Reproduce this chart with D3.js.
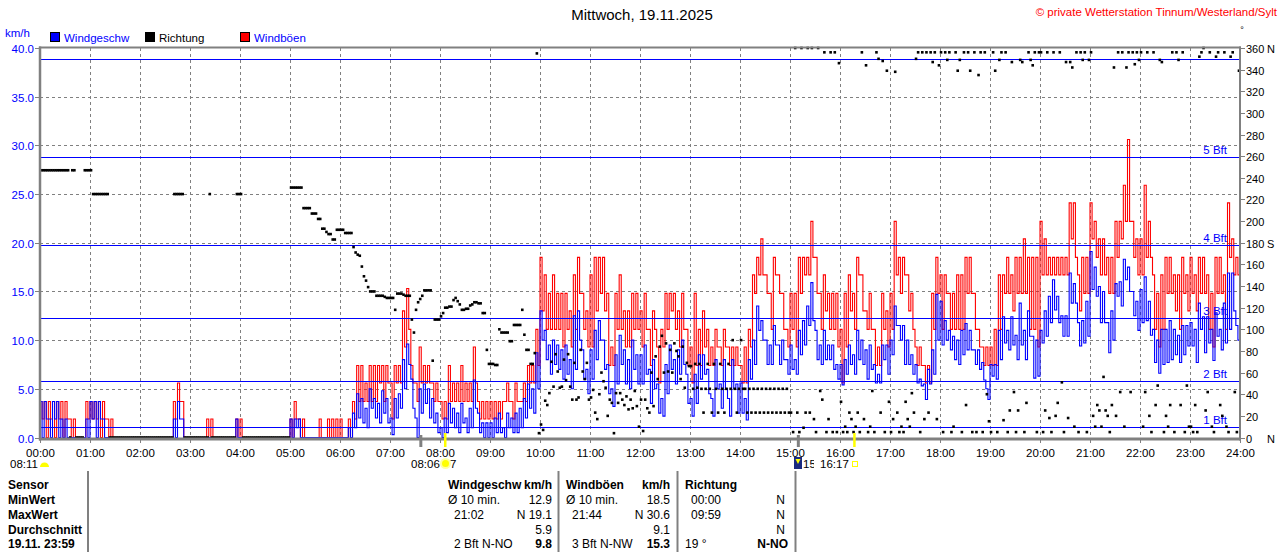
<!DOCTYPE html>
<html><head><meta charset="utf-8">
<script src="https://cdn.jsdelivr.net/npm/d3@7"></script>
<style>
body{margin:0;background:#fff;}
svg{display:block;font-family:"Liberation Sans",Arial,sans-serif;}
</style>
</head><body>
<svg id="c" width="1280" height="552"></svg>
<script>
// ---------------- DATA ----------------
const titel = "Mittwoch, 19.11.2025";
const copyright = "\u00A9 private Wetterstation Tinnum/Westerland/Sylt";
const stundenLabels = ["00:00","01:00","02:00","03:00","04:00","05:00","06:00","07:00","08:00","09:00","10:00","11:00","12:00","13:00","14:00","15:00","16:00","17:00","18:00","19:00","20:00","21:00","22:00","23:00","24:00"];
const kmhTicks = [0,5,10,15,20,25,30,35,40];
const richtungTicks = [0,20,40,60,80,100,120,140,160,180,200,220,240,260,280,300,320,340,360];
const richtungSuffix = {0:"N",180:"S",360:"N"};
const bftGrenzen = [1.08,5.76,12.24,19.8,28.8,38.88];
const bftLabels = ["1 Bft","2 Bft","3 Bft","4 Bft","5 Bft",""];
const legende = [["Windgeschw","#0000ff","#0000ff"],["Richtung","#000000","#000000"],["Windb\u00F6en","#ff0000","#0000ff"]];

// wind speed km/h: highest and lowest reading in each 5-minute slot (rows = hours)
const geschwHoch = [
 3.7,3.7,1.9,3.7,3.7,1.9,1.9,0,0,0,0,1.9,
 3.7,3.7,3.7,1.9,0,0,0,0,0,0,0,0,
 0,0,0,0,0,0,0,0,1.9,3.7,1.9,0,
 0,0,0,0,0,0,0,0,0,0,0,1.9,
 0,0,0,0,0,0,0,0,0,0,0,0,
 1.9,1.9,1.9,0,0,0,0,0,0,0,0,0,
 0,0,1.0,2.5,4.5,4.0,3.0,5.0,4.0,3.5,4.8,4.0,
 2.0,4.0,4.5,8.0,9.6,6.0,2.0,5.0,5.5,5.0,4.0,2.5,
 1.0,2.0,3.5,3.0,2.5,3.5,2.0,3.0,5.9,2.5,1.5,1.5,
 1.5,2.0,2.5,1.0,2.5,2.0,2.5,3.0,4.0,5.5,5.0,8.7,
 13.0,11.0,9.5,10.0,9.5,9.0,9.5,8.0,12.5,13.0,9.0,7.0,
 9.0,11.0,12.0,10.0,7.5,5.0,8.5,10.5,9.0,8.0,10.0,8.5,
 8.5,9.5,7.0,8.0,5.5,4.0,7.5,9.5,8.0,9.0,10.0,6.5,
 4.0,6.5,8.5,8.5,7.0,4.0,8.0,5.5,8.0,4.0,8.0,5.5,
 5.6,4.0,8.0,10.0,13.5,12.0,10.0,9.5,11.5,9.5,10.0,8.0,
 9.5,8.0,11.0,12.0,13.5,15.9,11.0,9.5,11.0,9.5,9.5,7.5,
 7.5,8.0,9.5,8.5,11.0,10.0,9.0,9.5,7.5,6.5,9.5,9.5,
 10.0,13.5,11.5,11.5,10.0,8.5,7.5,6.0,5.5,7.0,9.0,14.7,
 14.0,12.0,11.0,10.4,10.0,11.0,11.7,11.0,9.0,9.0,7.7,5.0,
 7.5,7.5,11.0,12.4,11.0,12.4,10.5,13.8,11.0,13.0,10.4,10.0,
 11.0,13.0,14.5,16.2,14.5,12.5,12.5,16.9,15.8,11.8,12.0,14.0,
 19.1,17.5,15.5,15.0,11.8,13.0,15.8,16.0,18.3,17.5,15.0,14.0,
 15.2,16.5,14.0,11.1,10.0,11.1,11.1,12.0,11.1,10.5,11.5,11.5,
 11.8,11.1,13.8,12.4,12.4,11.1,12.8,11.1,13.8,16.9,16.9,11.5
];
const geschwTief = [
 0,1.9,0,1.9,0,0,0,0,0,0,0,0,
 1.9,0,1.9,0,0,0,0,0,0,0,0,0,
 0,0,0,0,0,0,0,0,0,1.9,0,0,
 0,0,0,0,0,0,0,0,0,0,0,0,
 0,0,0,0,0,0,0,0,0,0,0,0,
 0,1.0,0,0,0,0,0,0,0,0,0,0,
 0,0,0,1.0,2.0,1.5,1.0,3.0,2.0,1.5,2.5,1.5,
 0.3,2.0,3.0,5.0,7.5,3.0,0,2.5,3.5,2.0,1.5,0.5,
 0,0.5,1.5,1.0,0.5,1.5,0.5,1.0,3.0,0.5,0,0,
 0,0.5,0.5,0,1.0,0.5,0.5,1.0,2.0,3.0,2.5,5.0,
 10.0,8.0,6.5,7.5,7.0,6.0,6.5,5.0,7.0,10.0,6.0,4.5,
 6.0,8.0,10.0,7.0,4.5,3.2,5.5,7.5,5.5,5.0,7.0,5.5,
 5.5,6.5,3.5,5.0,2.5,2.2,4.5,7.0,5.5,6.5,7.5,3.5,
 2.2,3.5,6.0,6.5,4.5,2.2,5.0,3.0,5.0,2.2,5.0,2.5,
 2.5,1.8,6.0,7.5,11.0,10.0,7.5,7.5,9.5,7.5,8.0,6.5,
 7.0,6.5,8.5,9.5,11.5,12.0,8.0,7.5,8.0,8.0,7.0,6.0,
 5.4,6.5,7.5,6.5,8.0,7.5,6.0,7.0,5.6,5.6,8.0,6.5,
 8.5,11.5,10.0,7.5,7.5,6.5,5.6,5.3,3.9,5.5,6.5,10.0,
 9.5,10.0,9.0,8.0,7.5,8.5,9.0,9.0,7.5,7.0,5.9,3.9,
 6.3,6.0,8.0,9.7,9.0,9.5,8.0,9.5,8.0,10.4,6.1,6.3,
 9.7,10.4,11.8,13.1,11.8,10.4,10.4,13.8,13.8,9.4,9.7,10.4,
 15.2,14.5,11.8,11.8,8.7,10.0,14.5,13.5,16.2,15.0,12.5,11.0,
 11.8,12.0,10.5,7.7,6.6,7.5,7.7,8.0,8.5,7.7,8.5,9.4,
 9.4,7.7,11.1,8.7,9.7,7.9,10.4,9.0,9.7,11.1,13.0,10.0
];
// gusts km/h: highest and lowest reading in each 5-minute slot
const boeenHoch = [
 3.7,3.7,3.7,3.7,3.7,3.7,3.7,1.9,1.9,0,0,3.7,
 3.7,3.7,3.7,3.7,1.9,1.9,0,0,0,0,0,0,
 0,0,0,0,0,0,0,0,3.7,5.6,3.7,0,
 0,0,0,0,1.9,1.9,0,0,0,0,0,1.9,
 1.9,0,0,0,0,0,0,0,0,0,0,0,
 1.9,3.7,1.9,1.9,0,0,0,1.9,0,1.9,1.9,1.9,
 1.9,0,1.9,3.7,7.4,7.4,5.6,7.4,7.4,7.4,7.4,7.4,
 5.6,7.4,7.4,13.0,15.3,7.4,5.6,9.3,7.4,7.4,5.6,5.6,
 3.7,3.7,7.4,5.6,5.6,7.4,5.6,5.6,9.3,3.7,3.7,3.7,
 3.7,3.7,3.7,3.7,5.6,3.7,5.6,3.7,5.6,7.4,7.4,11.1,
 18.5,16.7,14.8,16.7,14.8,14.8,14.8,13.0,16.7,18.5,14.8,13.0,
 16.7,18.5,18.5,18.5,14.8,9.3,14.8,16.7,13.0,13.0,14.8,14.8,
 13.0,14.8,11.1,13.0,9.3,11.1,14.8,14.8,14.8,13.0,14.8,11.1,
 9.3,14.8,11.1,13.0,11.1,9.3,11.1,9.3,11.1,9.3,9.3,9.3,
 7.4,9.3,11.1,16.7,18.5,20.4,16.7,14.8,18.5,16.7,14.8,11.1,
 14.8,14.8,18.5,18.5,18.5,22.2,18.5,14.8,16.7,14.8,14.8,14.8,
 11.1,14.8,16.7,14.8,18.5,16.7,13.0,14.8,11.1,9.3,14.8,13.0,
 14.8,22.2,18.5,18.5,16.7,14.8,9.3,9.3,7.4,7.4,14.8,18.5,
 16.7,16.7,14.8,14.8,16.7,16.7,18.5,18.5,14.8,11.1,9.3,9.3,
 9.3,11.1,16.7,16.7,18.5,16.7,18.5,18.5,20.4,18.5,18.5,18.5,
 22.2,20.4,18.5,18.5,18.5,18.5,18.5,24.1,24.1,16.7,18.5,18.5,
 24.1,22.2,20.4,20.4,18.5,18.5,22.2,22.2,25.9,30.6,22.2,20.4,
 20.4,25.9,22.2,16.7,14.8,16.7,18.5,18.5,16.7,16.7,18.5,16.7,
 18.5,16.7,18.5,18.5,16.7,14.8,18.5,18.5,16.7,24.1,20.4,18.5
];
const boeenTief = [
 1.9,0,1.9,0,1.9,0,1.9,0,0,0,0,1.9,
 1.9,1.9,0,1.9,0,0,0,0,0,0,0,0,
 0,0,0,0,0,0,0,0,1.9,3.7,0,0,
 0,0,0,0,0,0,0,0,0,0,0,0,
 0,0,0,0,0,0,0,0,0,0,0,0,
 0,1.9,0,0,0,0,0,0,0,0,0,0,
 0,0,0,1.9,3.7,3.7,3.7,3.7,3.7,5.6,3.7,5.6,
 1.9,5.6,5.6,9.3,11.1,5.6,3.7,5.6,5.6,5.6,3.7,3.7,
 1.9,1.9,3.7,3.7,3.7,3.7,3.7,3.7,5.6,1.9,1.9,1.9,
 1.9,1.9,1.9,3.7,3.7,1.9,3.7,3.7,3.7,5.6,5.6,7.4,
 13.0,11.1,11.1,11.1,11.1,9.3,11.1,9.3,11.1,14.8,11.1,9.3,
 9.3,13.0,14.8,13.0,7.4,7.4,11.1,11.1,9.3,9.3,11.1,11.1,
 9.3,11.1,7.4,11.1,5.6,9.3,11.1,13.0,11.1,9.3,11.1,7.4,
 5.6,7.4,7.4,9.3,7.4,7.4,9.3,7.4,9.3,7.4,7.4,7.4,
 5.6,5.6,9.3,14.8,16.7,16.7,14.8,11.1,16.7,14.8,11.1,9.3,
 11.1,9.3,14.8,16.7,16.7,18.5,14.8,11.1,13.0,11.1,11.1,9.3,
 5.6,9.3,13.0,11.1,16.7,13.0,11.1,11.1,7.4,7.4,11.1,9.3,
 11.1,16.7,14.8,16.7,13.0,11.1,7.4,7.4,5.6,5.6,11.1,14.8,
 11.1,14.8,11.1,11.1,11.1,11.1,14.8,14.8,11.1,9.3,7.4,7.4,
 7.4,7.4,11.1,14.8,14.8,13.0,14.8,14.8,14.8,11.1,11.1,9.3,
 16.7,16.7,16.7,16.7,16.7,16.7,16.7,20.4,18.5,13.0,14.8,14.8,
 20.4,18.5,16.7,16.7,14.8,14.8,18.5,20.4,22.2,22.2,18.5,16.7,
 16.7,18.5,18.5,11.1,9.3,11.1,14.8,14.8,13.0,11.1,14.8,13.0,
 14.8,13.0,14.8,14.8,11.1,9.3,14.8,14.8,11.1,18.5,16.7,16.7
];
// direction degrees, one value per 2.5 minutes (rows = hours)
const richtung = [
 247,247,247,247,247,247,247,247,247,247,247,247,247,247,0,247,247,0,0,0,0,247,247,247,
 247,225,225,225,225,225,225,225,225,0,0,0,0,0,0,0,0,0,0,0,0,0,0,0,
 0,0,0,0,0,0,0,0,0,0,0,0,0,0,0,0,225,225,225,225,225,0,0,0,
 0,0,0,0,0,0,0,0,0,225,0,0,0,0,0,0,0,0,0,0,0,0,225,225,
 225,0,0,0,0,0,0,0,0,0,0,0,0,0,0,0,0,0,0,0,0,0,0,0,
 231,231,231,231,231,231,212,212,212,212,207,207,207,202,202,193,193,190,188,188,183,183,192,192,
 192,192,189,189,189,189,176,171,169,168,158,149,145,139,135,135,135,131,131,131,131,130,129,129,
 129,129,118,133,133,133,132,131,131,131,109,97,118,125,128,131,136,136,136,136,71,109,109,109,
 112,115,120,120,121,121,127,129,126,123,118,118,119,119,122,123,125,125,124,124,115,115,81,68,
 68,68,67,67,100,97,97,97,97,89,89,104,104,104,104,118,95,81,81,68,68,78,355,4,
 12,7,34,30,41,70,47,77,61,46,47,72,53,77,47,35,69,35,37,81,61,54,69,35,
 37,44,23,17,40,60,52,46,20,35,32,4,41,32,41,35,30,38,26,35,27,43,29,10,
 35,6,35,27,23,60,29,75,54,84,94,60,87,61,81,60,87,80,75,54,84,46,69,66,
 66,45,68,46,68,45,23,45,68,45,23,68,45,23,68,45,23,45,68,45,90,45,23,45,
 90,45,45,23,45,23,45,23,45,23,45,23,45,23,45,23,45,23,45,23,45,23,45,23,
 23,5,360,23,5,360,9,23,360,23,360,17,5,360,43,35,356,5,17,356,5,356,5,346,
 33,5,10,5,23,17,5,10,23,5,356,17,344,5,10,43,5,356,350,23,348,5,339,33,
 5,17,338,23,5,10,5,33,17,10,41,23,350,356,5,356,17,356,23,356,347,356,17,344,
 356,5,356,349,356,5,10,356,339,349,5,356,30,356,339,5,356,5,335,356,5,356,40,15,
 5,356,339,5,349,356,16,356,5,25,347,42,5,25,349,347,5,32,356,349,344,356,5,356,
 356,5,25,356,18,5,356,20,32,356,51,5,347,18,347,342,10,356,5,356,349,356,5,349,
 356,20,10,30,25,10,56,25,20,5,30,342,20,356,42,356,10,342,356,42,356,345,356,349,
 356,10,42,356,20,5,356,30,48,349,347,5,20,10,30,356,5,356,349,30,356,5,48,10,
 10,5,30,5,352,356,360,25,42,356,10,5,352,356,30,20,356,10,5,352,356,42,5,339
];
// sun / moon events (minutes of day)
const sonnenMarker = [486, 977];   // 08:06 sunrise, 16:17 sunset
const mondMarker = [457, 910];
// statistics table
const tabZeilen = ["Sensor","MinWert","MaxWert","Durchschnitt","19.11. 23:59"];
const tabGeschw = [["Windgeschw","km/h"],["\u00D8 10 min.","12.9"],["21:02","N 19.1"],["","5.9"],["2 Bft N-NO","9.8"]];
const tabBoeen = [["Windb\u00F6en","km/h"],["\u00D8 10 min.","18.5"],["21:44","N 30.6"],["","9.1"],["3 Bft N-NW","15.3"]];
const tabRichtung = [["Richtung",""],["00:00","N"],["09:59","N"],["","N"],["19 \u00B0","N-NO"]];

// ---------------- DRAW ----------------
const svg = d3.select("#c");
const X0 = 40, X1 = 1240, Y0 = 437.5, Y1 = 48;
const x = d3.scaleLinear().domain([0,1440]).range([X0,X1]);
const y = d3.scaleLinear().domain([0,40]).range([Y0,Y1]);
const yd = d3.scaleLinear().domain([0,360]).range([Y0,Y1]);
const GRAY = "#808080";

svg.append("rect").attr("width",1280).attr("height",552).attr("fill","#fff");

svg.append("text").attr("x",642).attr("y",20).attr("text-anchor","middle")
  .attr("font-size",15).attr("fill","#000").text(titel);
svg.append("text").attr("x",1277).attr("y",16).attr("text-anchor","end")
  .attr("font-size",11.5).attr("fill","#ff0000").text(copyright);
svg.append("text").attr("x",1242).attr("y",33).attr("text-anchor","middle")
  .attr("font-size",9).attr("fill","#000").text("\u00B0");

svg.append("text").attr("x",5).attr("y",37).attr("font-size",11.5).attr("fill","#0000ff").text("km/h");
const lg = svg.append("g");
legende.forEach((d,i)=>{
  const lx = 50 + i*95;
  lg.append("rect").attr("x",lx+0.5).attr("y",32.5).attr("width",9).attr("height",9)
    .attr("fill",d[1]).attr("stroke","#000").attr("stroke-width",1);
  lg.append("text").attr("x",lx+14).attr("y",42).attr("font-size",11.5).attr("fill",d[2]).text(d[0]);
});

// grid
const grid = svg.append("g").attr("stroke",GRAY).attr("stroke-dasharray","3,3").attr("stroke-width",1).attr("shape-rendering","crispEdges");
kmhTicks.filter(v=>v>0 && v<40).forEach(v=>{
  grid.append("line").attr("x1",X0).attr("x2",X1).attr("y1",Math.round(y(v))+0.5).attr("y2",Math.round(y(v))+0.5);
});
d3.range(1,24).forEach(h=>{
  const xx = Math.round(x(h*60))+0.5;
  grid.append("line").attr("x1",xx).attr("x2",xx).attr("y1",Y1).attr("y2",Y0);
});

// series: each 5-minute slot drawn as high then low reading (2.5 min apart)
function serie(hoch, tief){
  const out = [];
  hoch.forEach((h,i)=>{ out.push({t:i*5, v:h}); out.push({t:i*5+2.5, v:tief[i]}); });
  return out;
}
const line = d3.line().x(d=>x(d.t)).y(d=>y(d.v)).curve(d3.curveStepAfter);
const boe = serie(boeenHoch, boeenTief);
const ges = serie(geschwHoch, geschwTief);
boe.push({t:1440, v:boe[boe.length-1].v});
ges.push({t:1440, v:ges[ges.length-1].v});

svg.append("path").datum(boe).attr("d",line).attr("fill","none")
  .attr("stroke","#ff0000").attr("stroke-width",1.1);

// Beaufort lines
bftGrenzen.forEach((v,i)=>{
  const yy = Math.round(y(v))+0.5;
  svg.append("line").attr("x1",X0).attr("x2",X1).attr("y1",yy).attr("y2",yy)
    .attr("stroke","#0000ff").attr("stroke-width",1).attr("shape-rendering","crispEdges");
  if(bftLabels[i]) svg.append("text").attr("x",1227).attr("y",yy-4).attr("text-anchor","end")
    .attr("font-size",11.5).attr("fill","#0000ff").text(bftLabels[i]);
});

svg.append("path").datum(ges).attr("d",line).attr("fill","none")
  .attr("stroke","#0000ff").attr("stroke-width",1.1);

// direction dots
svg.append("g").selectAll("rect").data(richtung.map((v,i)=>({t:i*2.5+1.25,v})))
  .join("rect").attr("x",d=>x(d.t)-1.3).attr("y",d=>yd(d.v)-1.3)
  .attr("width",2.6).attr("height",2.6).attr("fill","#000");

// frame
svg.append("line").attr("x1",X0-1).attr("x2",X1+1).attr("y1",47.5).attr("y2",47.5).attr("stroke",GRAY).attr("stroke-width",2);
svg.append("line").attr("x1",X0-1).attr("x2",X1+1).attr("y1",439).attr("y2",439).attr("stroke",GRAY).attr("stroke-width",3);
svg.append("line").attr("x1",X0).attr("x2",X0).attr("y1",46.5).attr("y2",440.5).attr("stroke",GRAY).attr("stroke-width",2.5);
svg.append("line").attr("x1",X1).attr("x2",X1).attr("y1",46.5).attr("y2",440.5).attr("stroke",GRAY).attr("stroke-width",2);

// left axis
const ax = svg.append("g");
kmhTicks.forEach(v=>{
  const yy = Math.round(y(v))+0.5;
  ax.append("line").attr("x1",35).attr("x2",X0).attr("y1",yy).attr("y2",yy).attr("stroke",GRAY);
  ax.append("text").attr("x",34).attr("y",yy+4).attr("text-anchor","end")
    .attr("font-size",11.5).attr("fill","#0000ff").text(d3.format(".1f")(v));
});
// right axis
richtungTicks.forEach(v=>{
  const yy = Math.round(yd(v))+0.5;
  ax.append("line").attr("x1",X1).attr("x2",X1+5).attr("y1",yy).attr("y2",yy).attr("stroke",GRAY);
  ax.append("text").attr("x",1246).attr("y",yy+4).attr("font-size",11).attr("fill","#000").text(v);
  if(richtungSuffix[v]) ax.append("text").attr("x",1267).attr("y",yy+4).attr("font-size",11).attr("fill","#000").text(richtungSuffix[v]);
});
// bottom axis
stundenLabels.forEach((s,h)=>{
  const xx = Math.round(x(h*60))+0.5;
  ax.append("line").attr("x1",xx).attr("x2",xx).attr("y1",439).attr("y2",443).attr("stroke",GRAY);
  ax.append("text").attr("x",xx).attr("y",457).attr("text-anchor","middle")
    .attr("font-size",11.5).attr("fill","#000").text(s);
});

// sun / moon markers
mondMarker.forEach(m=>{
  svg.append("rect").attr("x",x(m)-1.5).attr("y",435).attr("width",3).attr("height",12).attr("fill",GRAY);
});
sonnenMarker.forEach(m=>{
  svg.append("rect").attr("x",x(m)-1).attr("y",433).attr("width",2.5).attr("height",14).attr("fill","#ffff00");
});
svg.append("text").attr("x",10).attr("y",468).attr("font-size",11.5).attr("fill","#000").text("08:11");
svg.append("path").attr("d","M40,467 A4.5,4.5 0 0 1 49,467 Z").attr("fill","#ffff00");
svg.append("text").attr("x",411).attr("y",468).attr("font-size",11.5).attr("fill","#000").text("08:06");
svg.append("circle").attr("cx",445.5).attr("cy",463.5).attr("r",5.5).attr("fill","#ffffa0");
svg.append("circle").attr("cx",445.5).attr("cy",463.5).attr("r",3.5).attr("fill","#ffff00");
svg.append("text").attr("x",450).attr("y",468).attr("font-size",11.5).attr("fill","#000").text("7");
svg.append("rect").attr("x",794).attr("y",457).attr("width",8).attr("height",12).attr("fill","#1a2a80");
svg.append("path").attr("d","M795.5,459 L800.5,459 L798,464 Z").attr("fill","#ffff00");
svg.append("text").attr("x",803).attr("y",468).attr("font-size",11.5).attr("fill","#000").text("15");
svg.append("rect").attr("x",814).attr("y",456).attr("width",5).attr("height",14).attr("fill","#fff");
svg.append("text").attr("x",820).attr("y",468).attr("font-size",11.5).attr("fill","#000").text("16:17");
svg.append("rect").attr("x",852.5).attr("y",461.5).attr("width",5).attr("height",5).attr("fill","none").attr("stroke","#ffff00");

// table
const tab = svg.append("g").attr("font-size",12).attr("fill","#000");
[88,558.5,677.5,795.5].forEach(xx=>{
  tab.append("line").attr("x1",xx).attr("x2",xx).attr("y1",471).attr("y2",552).attr("stroke",GRAY).attr("stroke-width",2);
});
const rowYs = [489,504,519,534,548];
tabZeilen.forEach((s,i)=>tab.append("text").attr("x",8).attr("y",rowYs[i]).attr("font-weight","bold").text(s));
function col(data, xl, xlIndent, xr){
  data.forEach((d,i)=>{
    const lx = (i===0||i===1) ? xl : xl+xlIndent;
    if(d[0]) tab.append("text").attr("x",lx).attr("y",rowYs[i]).attr("font-weight",i===0?"bold":"normal").text(d[0]);
    if(d[1]) tab.append("text").attr("x",xr).attr("y",rowYs[i]).attr("text-anchor","end")
      .attr("font-weight",(i===0||i===4)?"bold":"normal").text(d[1]);
  });
}
col(tabGeschw,448,6,552);
col(tabBoeen,566,6,670);
tabRichtung.forEach((d,i)=>{
  const lx = (i===0||i===4) ? 685 : 691;
  if(d[0]) tab.append("text").attr("x",lx).attr("y",rowYs[i]).attr("font-weight",i===0?"bold":"normal").text(d[0]);
  if(d[1]) tab.append("text").attr("x",i===4?788:785).attr("y",rowYs[i]).attr("text-anchor","end")
    .attr("font-weight",i===4?"bold":"normal").text(d[1]);
});
</script>
</body></html>
